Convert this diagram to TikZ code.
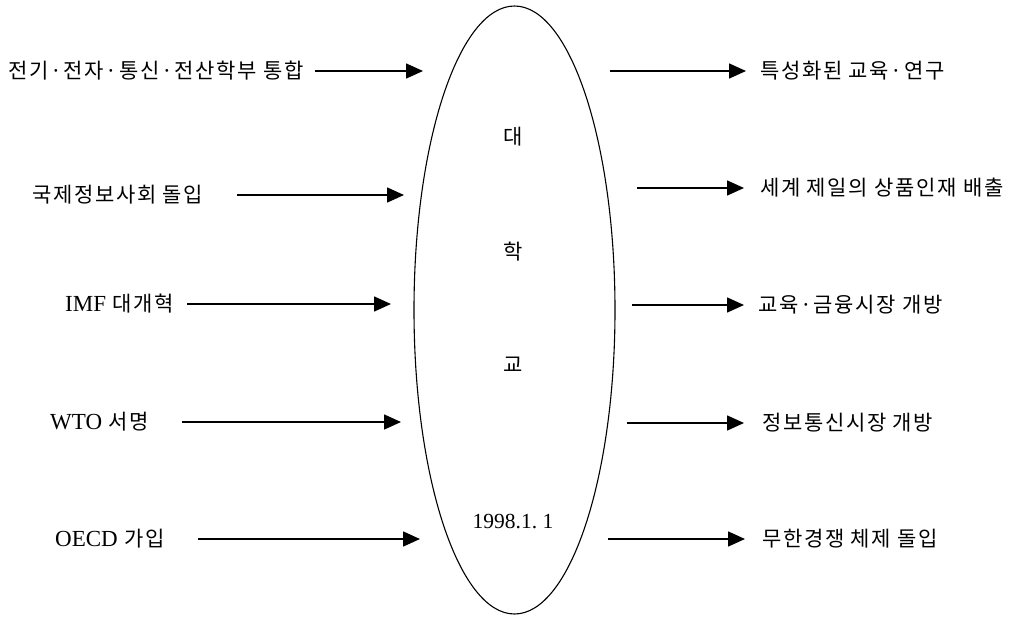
\documentclass[tikz,border=0pt]{standalone}
\usepackage{fontspec}
\setmainfont[LetterSpace=8]{Noto Sans CJK KR}
\newfontfamily\lat{Liberation Serif}
\usetikzlibrary{arrows.meta,shapes.geometric}
\tikzset{
  lbl/.style={inner sep=0pt, anchor=west, font=\fontsize{21}{24}\selectfont},
  ctr/.style={inner sep=0pt, font=\fontsize{21}{24}\selectfont},
  arr/.style={line width=1.6pt, -{Triangle[length=17pt,width=15pt]}},
  uni/.style={draw, ellipse, line width=1.1pt, inner sep=0pt, minimum width=201pt, minimum height=608pt}
}
\begin{document}
\begin{tikzpicture}[x=1pt,y=-1pt]
\useasboundingbox (0,0) rectangle (1020,618);
\node[uni] (univ) at (514.5,310) {};
\node[ctr] (c1) at (513,137) {대};
\node[ctr] (c2) at (513,252) {학};
\node[ctr] (c3) at (513,365) {교};
\node[ctr, font=\lat\fontsize{21.5}{24}\selectfont] (c4) at (513,521) {1998.1.\ 1};
% left
\node[lbl] (l1) at (8,71) {전기·전자·통신·전산학부 통합};
\node[lbl] (l2) at (32,195) {국제정보사회 돌입};
\node[lbl] (l3) at (65,304) {{\lat\fontsize{23}{24}\selectfont IMF} 대개혁};
\node[lbl] (l4) at (50,422) {{\lat\fontsize{23}{24}\selectfont WTO} 서명};
\node[lbl] (l5) at (55,539) {{\lat\fontsize{23}{24}\selectfont OECD} 가입};
\coordinate (l1a) at (315,71);  \coordinate (l1b) at (423,71);
\coordinate (l2a) at (237,195); \coordinate (l2b) at (404,195);
\coordinate (l3a) at (187,304); \coordinate (l3b) at (391,304);
\coordinate (l4a) at (182,422); \coordinate (l4b) at (401,422);
\coordinate (l5a) at (198,539); \coordinate (l5b) at (420,539);
\draw[arr] (l1a) -- (l1b);
\draw[arr] (l2a) -- (l2b);
\draw[arr] (l3a) -- (l3b);
\draw[arr] (l4a) -- (l4b);
\draw[arr] (l5a) -- (l5b);
% right
\node[lbl] (r1) at (760,71) {특성화된 교육·연구};
\node[lbl] (r2) at (760,188) {세계 제일의 상품인재 배출};
\node[lbl] (r3) at (758,305) {교육·금융시장 개방};
\node[lbl] (r4) at (762,423) {정보통신시장 개방};
\node[lbl] (r5) at (762,539) {무한경쟁 체제 돌입};
\coordinate (r1a) at (610,71);  \coordinate (r1b) at (746,71);
\coordinate (r2a) at (637,188); \coordinate (r2b) at (744,188);
\coordinate (r3a) at (632,305); \coordinate (r3b) at (744,305);
\coordinate (r4a) at (627,423); \coordinate (r4b) at (744,423);
\coordinate (r5a) at (608,539); \coordinate (r5b) at (745,539);
\draw[arr] (r1a) -- (r1b);
\draw[arr] (r2a) -- (r2b);
\draw[arr] (r3a) -- (r3b);
\draw[arr] (r4a) -- (r4b);
\draw[arr] (r5a) -- (r5b);
\end{tikzpicture}
\end{document}
